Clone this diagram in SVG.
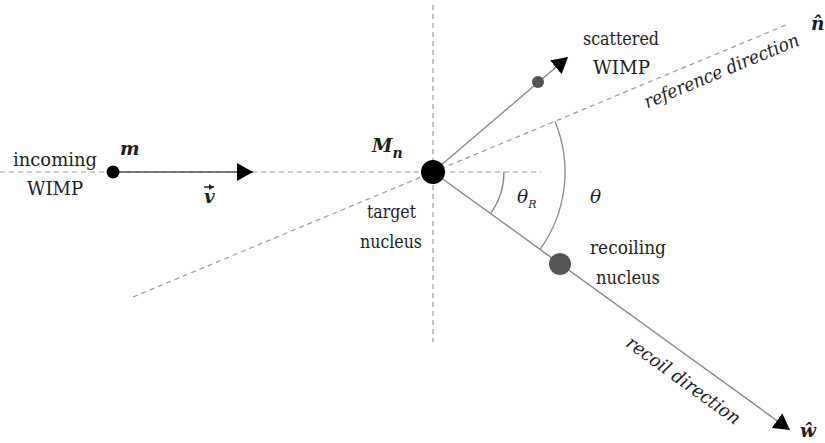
<svg xmlns="http://www.w3.org/2000/svg" width="825" height="443" viewBox="0 0 825 443">
<style>
text{font-family:'DejaVu Serif',serif;font-size:18.5px;fill:#1e1e1e}
.it{font-style:italic}
.bi{font-style:italic;font-weight:bold}
.dash{stroke:#999;stroke-width:1.2;stroke-dasharray:5 4;fill:none}
.ln{stroke:#888;stroke-width:1.4;fill:none}
.arc{stroke:#888;stroke-width:1.3;fill:none}
</style>
<defs>
<marker id="ah" markerUnits="userSpaceOnUse" markerWidth="17" markerHeight="18" refX="16" refY="9" orient="auto">
<path d="M0,0 L16,9 L0,18 z" fill="#000"/>
</marker>
<marker id="sa" markerUnits="userSpaceOnUse" markerWidth="6" markerHeight="6" refX="5" refY="3" orient="auto">
<path d="M0,0 L5,3 L0,6 z" fill="#222"/>
</marker>
</defs>
<g id="axes">
<line class="dash" x1="0" y1="172" x2="541" y2="172"/>
<line class="dash" x1="433" y1="5" x2="433" y2="342"/>
<line class="dash" x1="133" y1="297" x2="786" y2="25"/>
</g>
<g id="connectors">
<line x1="113" y1="172" x2="253" y2="172" stroke="#555" stroke-width="1.4" marker-end="url(#ah)"/>
<line class="ln" x1="433" y1="172" x2="568" y2="57" marker-end="url(#ah)"/>
<line class="ln" x1="433" y1="172" x2="790" y2="430" marker-end="url(#ah)"/>
<path class="arc" d="M504,172 A71,71 0 0 1 490.5,213.6"/>
<path class="arc" d="M554.9,121.3 A132,132 0 0 1 540,249.3"/>
</g>
<g id="incoming">
<circle cx="113" cy="172" r="6.5" fill="#000"/>
<text x="13" y="166" textLength="84" lengthAdjust="spacingAndGlyphs">incoming</text>
<text x="27" y="195" textLength="56" lengthAdjust="spacingAndGlyphs">WIMP</text>
<text class="bi" x="120" y="155">m</text>
<text class="bi" x="204" y="203">v</text>
<line x1="204" y1="187" x2="214" y2="187" stroke="#222" stroke-width="1.5" marker-end="url(#sa)"/>
</g>
<g id="target">
<circle cx="433" cy="172" r="12" fill="#000"/>
<text class="bi" x="372" y="152" font-size="20">M<tspan font-size="14" dy="6">n</tspan></text>
<text x="367" y="218" textLength="49" lengthAdjust="spacingAndGlyphs">target</text>
<text x="360" y="248" textLength="62" lengthAdjust="spacingAndGlyphs">nucleus</text>
</g>
<g id="scattered">
<circle cx="538" cy="82" r="6" fill="#555"/>
<text x="583" y="45" textLength="76" lengthAdjust="spacingAndGlyphs">scattered</text>
<text x="593" y="74" textLength="57" lengthAdjust="spacingAndGlyphs">WIMP</text>
</g>
<g id="recoiling">
<circle cx="560" cy="264" r="11" fill="#555"/>
<text x="590" y="254" textLength="76" lengthAdjust="spacingAndGlyphs">recoiling</text>
<text x="596" y="284" textLength="64" lengthAdjust="spacingAndGlyphs">nucleus</text>
</g>
<g id="angles">
<text class="it" x="517" y="203">θ<tspan font-size="11" dy="5">R</tspan></text>
<text class="it" x="590" y="203">θ</text>
</g>
<g id="labels">
<text class="it" transform="translate(723,51) rotate(-22.6)" x="-9" y="24" text-anchor="middle" textLength="166" lengthAdjust="spacingAndGlyphs">reference direction</text>
<text class="it" transform="translate(684,354) rotate(35.9)" x="15" y="28" text-anchor="middle" textLength="136" lengthAdjust="spacingAndGlyphs">recoil direction</text>
<text class="bi" x="811" y="30">n̂</text>
<text class="bi" x="800" y="437">ŵ</text>
</g>
</svg>
